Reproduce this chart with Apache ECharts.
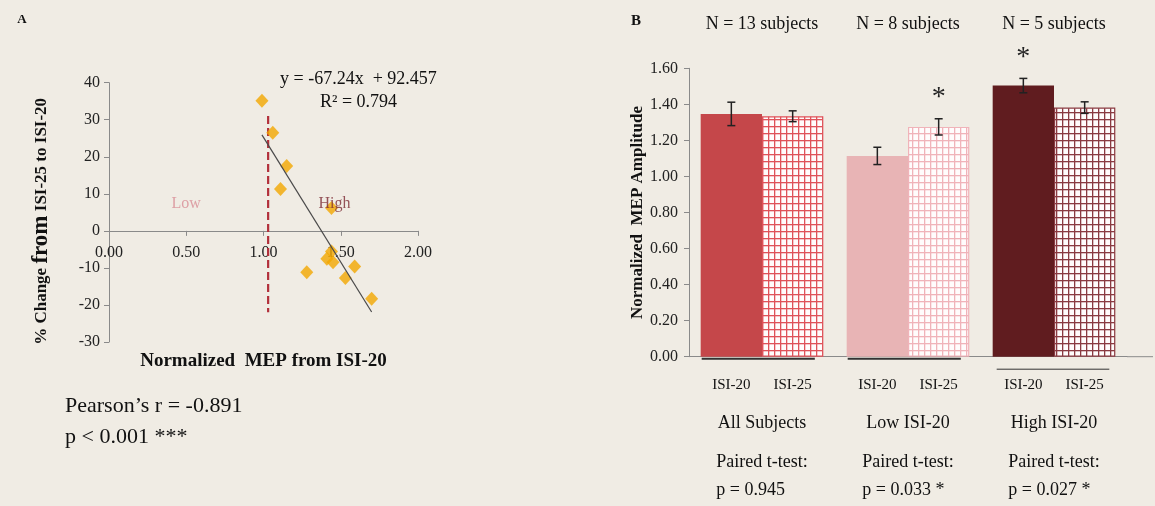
<!DOCTYPE html>
<html>
<head>
<meta charset="utf-8">
<script src="https://cdn.jsdelivr.net/npm/echarts@6/dist/echarts.min.js"></script>
<style>
html,body{margin:0;padding:0;background:#f0ece4;}
#chart{width:1155px;height:506px;}
</style>
</head>
<body>
<div id="chart"></div>
<script>
// ---------- Panel A data ----------
const scatterX = [0.99, 1.06, 1.15, 1.11, 1.44, 1.44, 1.41, 1.45, 1.59, 1.28, 1.53, 1.70];
const scatterY = [35.1, 26.5, 17.5, 11.3, 6.2, -5.6, -7.5, -8.5, -9.6, -11.2, -12.7, -18.3];
const trendX = [0.99, 1.70];
const trendY = [25.9, -21.9];
const cutoffX = [1.03, 1.03];
const cutoffY = [31, -22];
const regionLabels = ['Low', 'High'];
const regionX = [0.50, 1.46];
const regionY = [7.3, 7.3];
const xTicksA = [0, 0.5, 1, 1.5, 2];
const yTicksA = [-30, -20, -10, 0, 10, 20, 30, 40];

// ---------- Panel B data ----------
const categories = ['All Subjects', 'Low ISI-20', 'High ISI-20'];
const pValues = ['p = 0.945', 'p = 0.033 *', 'p = 0.027 *'];
const nLabels = ['N = 13 subjects', 'N = 8 subjects', 'N = 5 subjects'];
const isi20 = [1.347, 1.114, 1.504];
const isi20Err = [0.065, 0.048, 0.040];
const isi25 = [1.334, 1.275, 1.382];
const isi25Err = [0.030, 0.045, 0.032];
const sig20 = ['', '', '*'];
const sig25 = ['', '*', ''];
const solidColors = ['#c5474a', '#e8b4b5', '#601c1f'];
const hatchColors = ['#df5259', '#f0b3b9', '#8a3a41'];

const FONT = '"Liberation Serif", "Times New Roman", serif';
const AXIS_GREY = '#8a8a8a';
const BAR_GAP_FRAC = 0.16;

// Panel A grid geometry (x axis sits on the y = 0 line)
const GA = { left: 109, top: 82.7, width: 309, height: 259.3 };
const yMinA = -30, yMaxA = 40;
const zeroOffsetA = -GA.height * (0 - yMinA) / (yMaxA - yMinA);

function makePattern(color) {
  const c = document.createElement('canvas');
  c.width = 6; c.height = 7;
  const ctx = c.getContext('2d');
  ctx.fillStyle = '#fffcfc';
  ctx.fillRect(0, 0, 6, 7);
  ctx.fillStyle = color;
  ctx.fillRect(0, 0, 1.3, 7);
  ctx.fillRect(0, 0, 6, 1.3);
  return { image: c, repeat: 'repeat' };
}

const chart = echarts.init(document.getElementById('chart'), null, { renderer: 'canvas' });

function errRender(side) {
  return function (params, api) {
    const i = api.value(0);
    const v = api.value(1);
    const e = api.value(2);
    const sig = side < 0 ? sig20[i] : sig25[i];
    const bw = api.size([1, 0])[0];
    const barW = bw * (1 - BAR_GAP_FRAC) / 2;
    const top = api.coord([i, v + e]);
    const bot = api.coord([i, v - e]);
    const x = top[0] + side * barW / 2;
    const cap = 4;
    const st = { stroke: '#222', lineWidth: 1.5 };
    const children = [
      { type: 'line', shape: { x1: x, y1: top[1], x2: x, y2: bot[1] }, style: st },
      { type: 'line', shape: { x1: x - cap, y1: top[1], x2: x + cap, y2: top[1] }, style: st },
      { type: 'line', shape: { x1: x - cap, y1: bot[1], x2: x + cap, y2: bot[1] }, style: st }
    ];
    if (sig) {
      children.push({
        type: 'text',
        style: { text: sig, x: x, y: top[1] - 21, font: '28px ' + FONT, fill: '#222', align: 'center', verticalAlign: 'middle' }
      });
    }
    return { type: 'group', children: children };
  };
}

const option = {
  backgroundColor: '#f0ece4',
  animation: false,
  textStyle: { fontFamily: FONT },
  grid: [
    GA,
    { left: 689, top: 68.3, width: 438, height: 288.4 }
  ],
  xAxis: [
    {
      gridIndex: 0, type: 'value', min: 0, max: 2, interval: 0.5,
      offset: zeroOffsetA,
      axisLine: { onZero: false, lineStyle: { color: AXIS_GREY, width: 1 } },
      axisTick: { show: true, inside: false, length: 5, lineStyle: { color: AXIS_GREY } },
      axisLabel: { color: '#222', fontSize: 16, fontFamily: FONT, margin: 14, formatter: v => v.toFixed(2) },
      splitLine: { show: false },
      name: 'Normalized  MEP from ISI-20', nameLocation: 'middle', nameGap: 121,
      nameTextStyle: { fontSize: 19, fontWeight: 'bold', color: '#111', fontFamily: FONT }
    },
    {
      gridIndex: 1, type: 'category', data: categories,
      axisLine: { show: true, lineStyle: { color: AXIS_GREY, width: 1 } },
      axisTick: { show: false },
      axisLabel: {
        interval: 0, margin: 42, color: '#111', fontFamily: FONT,
        formatter: function (v, idx) {
          return '{t|' + v + '}\n{p|Paired t-test:}\n{p|' + pValues[idx] + '}';
        },
        rich: {
          t: { fontSize: 18, lineHeight: 50, align: 'center', fontFamily: FONT, color: '#111' },
          p: { fontSize: 18, lineHeight: 28, align: 'left', fontFamily: FONT, color: '#111' }
        }
      }
    },
    {
      gridIndex: 1, type: 'category', data: nLabels, position: 'top',
      axisLine: { show: false }, axisTick: { show: false },
      axisLabel: { interval: 0, margin: 35, color: '#111', fontSize: 18, fontFamily: FONT }
    }
  ],
  yAxis: [
    {
      gridIndex: 0, type: 'value', min: yMinA, max: yMaxA, interval: 10,
      axisLine: { show: true, onZero: false, lineStyle: { color: AXIS_GREY, width: 1 } },
      axisTick: { show: true, length: 5, lineStyle: { color: AXIS_GREY } },
      axisLabel: { color: '#222', fontSize: 16, fontFamily: FONT, margin: 9 },
      splitLine: { show: false },
      name: '{a|% Change }{b|from}{a| ISI-25 to ISI-20}', nameLocation: 'middle', nameGap: 56,
      nameTextStyle: {
        color: '#111', fontFamily: FONT, padding: [0, 0, 0, -18],
        rich: {
          a: { fontSize: 17, fontWeight: 'bold', fontFamily: FONT, color: '#111' },
          b: { fontSize: 23, fontWeight: 'bold', fontFamily: FONT, color: '#111' }
        }
      }
    },
    {
      gridIndex: 1, type: 'value', min: 0, max: 1.6, interval: 0.2,
      axisLine: { show: true, lineStyle: { color: AXIS_GREY, width: 1 } },
      axisTick: { show: true, length: 5, lineStyle: { color: AXIS_GREY } },
      axisLabel: { color: '#222', fontSize: 16, fontFamily: FONT, margin: 11, formatter: v => v.toFixed(2) },
      splitLine: { show: false },
      name: 'Normalized  MEP Amplitude', nameLocation: 'middle', nameGap: 42,
      nameTextStyle: { fontSize: 17, fontWeight: 'bold', color: '#111', fontFamily: FONT }
    }
  ],
  series: [
    {
      type: 'line', xAxisIndex: 0, yAxisIndex: 0, symbol: 'none', silent: true,
      data: cutoffX.map((x, i) => [x, cutoffY[i]]),
      lineStyle: { color: '#b2303b', width: 2.2, type: [8, 4] }, z: 2
    },
    {
      type: 'line', xAxisIndex: 0, yAxisIndex: 0, symbol: 'none', silent: true,
      data: trendX.map((x, i) => [x, trendY[i]]),
      lineStyle: { color: '#4a4a4a', width: 1.2 }, z: 4
    },
    {
      type: 'scatter', xAxisIndex: 0, yAxisIndex: 0, symbol: 'diamond', symbolSize: [13, 14],
      data: scatterX.map((x, i) => [x, scatterY[i]]),
      itemStyle: { color: '#f2a800' }, z: 3
    },
    {
      type: 'scatter', xAxisIndex: 0, yAxisIndex: 0, symbolSize: 0, silent: true, z: 6,
      data: regionLabels.map((t, i) => ({
        value: [regionX[i], regionY[i]], name: t,
        label: { color: i === 0 ? '#d88c95' : '#7c2a33' }
      })),
      label: { show: true, position: 'inside', formatter: p => p.name, fontSize: 16, fontFamily: FONT }
    },
    {
      name: 'ISI-20', type: 'bar', xAxisIndex: 1, yAxisIndex: 1,
      barGap: '0%', barCategoryGap: (BAR_GAP_FRAC * 100) + '%',
      data: isi20.map((v, i) => ({ value: v, itemStyle: { color: solidColors[i] } })),
      label: { show: true, position: 'bottom', distance: 21, formatter: 'ISI-20', fontSize: 15, color: '#111', fontFamily: FONT }
    },
    {
      name: 'ISI-25', type: 'bar', xAxisIndex: 1, yAxisIndex: 1,
      barGap: '0%', barCategoryGap: (BAR_GAP_FRAC * 100) + '%',
      data: isi25.map((v, i) => ({ value: v, itemStyle: { color: makePattern(hatchColors[i]), borderColor: hatchColors[i], borderWidth: 1.2 } })),
      label: { show: true, position: 'bottom', distance: 21, formatter: 'ISI-25', fontSize: 15, color: '#111', fontFamily: FONT }
    },
    {
      type: 'custom', xAxisIndex: 1, yAxisIndex: 1, z: 5, silent: true,
      data: isi20.map((v, i) => [i, v, isi20Err[i]]),
      renderItem: errRender(-1)
    },
    {
      type: 'custom', xAxisIndex: 1, yAxisIndex: 1, z: 5, silent: true,
      data: isi25.map((v, i) => [i, v, isi25Err[i]]),
      renderItem: errRender(1)
    },
    {
      type: 'custom', xAxisIndex: 1, yAxisIndex: 1, z: 5, silent: true,
      data: categories.map((c, i) => [i, 0]),
      renderItem: function (params, api) {
        const i = api.value(0);
        const c = api.coord([i, 0]);
        const bw = api.size([1, 0])[0];
        const barW = bw * (1 - BAR_GAP_FRAC) / 2;
        const children = [];
        if (i < 2) {
          children.push({ type: 'line', shape: { x1: c[0] - barW + 1, y1: c[1] + 2, x2: c[0] + barW - 8.5, y2: c[1] + 2 }, style: { stroke: '#333', lineWidth: 2 } });
        } else {
          children.push({ type: 'line', shape: { x1: c[0] - barW + 4, y1: c[1] + 12.5, x2: c[0] + barW - 6, y2: c[1] + 12.5 }, style: { stroke: '#333', lineWidth: 1 } });
          children.push({ type: 'line', shape: { x1: c[0] + bw / 2, y1: c[1], x2: c[0] + bw / 2 + 26, y2: c[1] }, style: { stroke: AXIS_GREY, lineWidth: 1 } });
        }
        return { type: 'group', children: children };
      }
    }
  ],
  graphic: [
    { type: 'text', style: { text: 'A', x: 22, y: 20, font: 'bold 13px ' + FONT, fill: '#111', align: 'center', verticalAlign: 'middle' } },
    { type: 'text', style: { text: 'B', x: 636, y: 21, font: 'bold 15px ' + FONT, fill: '#111', align: 'center', verticalAlign: 'middle' } },
    { type: 'text', style: { text: 'y = -67.24x  + 92.457', x: 280, y: 79, font: '18px ' + FONT, fill: '#111', align: 'left', verticalAlign: 'middle' } },
    { type: 'text', style: { text: 'R\u00b2 = 0.794', x: 320, y: 102, font: '18px ' + FONT, fill: '#111', align: 'left', verticalAlign: 'middle' } },
    { type: 'text', style: { text: 'Pearson\u2019s r = -0.891', x: 65, y: 406, font: '22px ' + FONT, fill: '#111', align: 'left', verticalAlign: 'middle' } },
    { type: 'text', style: { text: 'p < 0.001 ***', x: 65, y: 437, font: '22px ' + FONT, fill: '#111', align: 'left', verticalAlign: 'middle' } }
  ]
};
chart.setOption(option);
</script>
</body>
</html>
